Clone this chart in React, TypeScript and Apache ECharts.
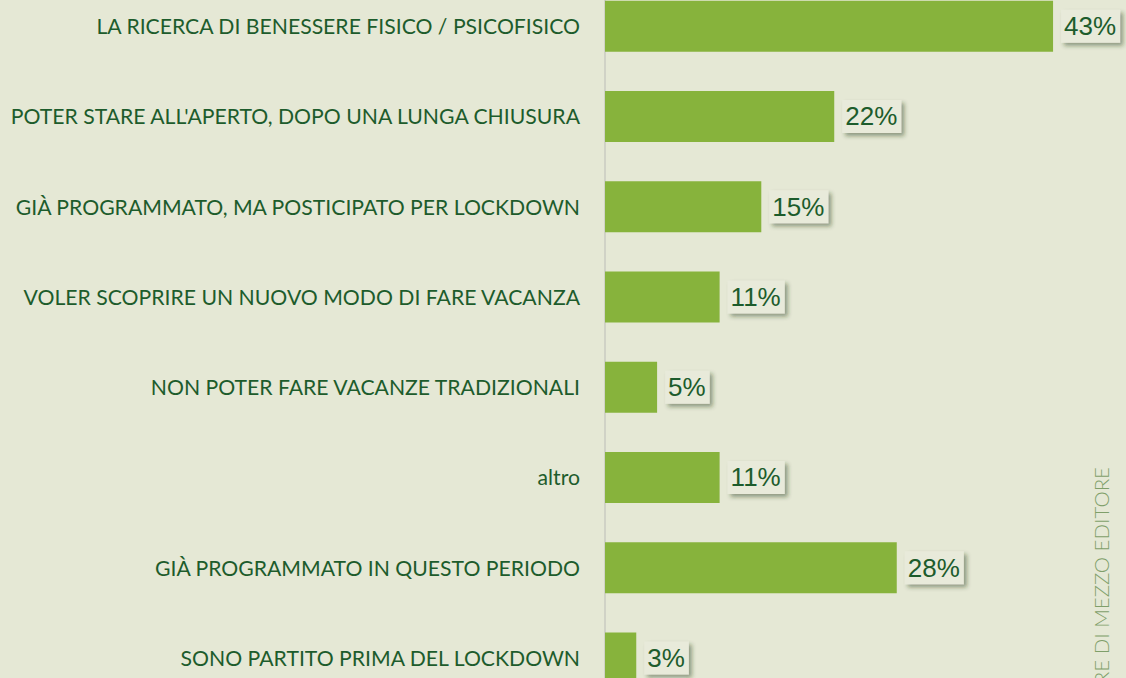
import React, { useEffect, useRef } from "react";
import * as echarts from "echarts";

const categories = [
  "LA RICERCA DI BENESSERE FISICO / PSICOFISICO",
  "POTER STARE ALL'APERTO, DOPO UNA LUNGA CHIUSURA",
  "GIÀ PROGRAMMATO, MA POSTICIPATO PER LOCKDOWN",
  "VOLER SCOPRIRE UN NUOVO MODO DI FARE VACANZA",
  "NON POTER FARE VACANZE TRADIZIONALI",
  "altro",
  "GIÀ PROGRAMMATO IN QUESTO PERIODO",
  "SONO PARTITO PRIMA DEL LOCKDOWN",
];
const values = [43, 22, 15, 11, 5, 11, 28, 3];
const sourceText = "TERRE DI MEZZO EDITORE";

const OFFSET = 19;

export default function App() {
  const ref = useRef<HTMLDivElement>(null);
  useEffect(() => {
    document.body.style.margin = "0";
    const chart = echarts.init(ref.current!, null, { renderer: "svg" });
    chart.setOption({
      animation: false,
      backgroundColor: "#e5e8d5",
      grid: { left: 605, width: 522, top: 0, height: 722, containLabel: false },
      xAxis: {
        type: "value",
        min: 0,
        max: 50,
        show: false,
      },
      yAxis: {
        type: "category",
        inverse: true,
        data: categories,
        axisLine: { show: true, lineStyle: { color: "#c9cbc0", width: 1.5 } },
        axisTick: { show: false },
        axisLabel: {
          margin: 25,
          color: "#1d5c2c",
          fontFamily: "Lato",
          fontSize: 21.2,
        },
      },
      series: [
        {
          type: "bar",
          data: values,
          barWidth: 51,
          itemStyle: { color: "#87b33c" },
          label: {
            show: true,
            position: "right",
            distance: 8,
            formatter: "{c}%",
            color: "#1d5c2c",
            fontFamily: "Liberation Sans",
            fontSize: 26,
            backgroundColor: "#e8eada",
            padding: [4, 4, 3, 3],
            shadowColor: "rgba(40,60,30,0.45)",
            shadowBlur: 4,
            shadowOffsetX: 3,
            shadowOffsetY: 3,
          },
        },
      ],
      graphic: [
        {
          type: "text",
          x: 1090,
          y: 467 + OFFSET,
          rotation: Math.PI / 2,
          style: {
            text: sourceText,
            fill: "#7f9f6a",
            font: "300 20.5px Lato",
            align: "right",
            verticalAlign: "top",
          },
        },
      ],
    });
    return () => chart.dispose();
  }, []);
  return (
    <div
      style={{
        position: "absolute",
        left: 0,
        top: 0,
        width: 1126,
        height: 678,
        overflow: "hidden",
      }}
    >
      <div
        ref={ref}
        style={{ position: "absolute", left: 0, top: -OFFSET, width: 1126, height: 722 }}
      />
    </div>
  );
}
